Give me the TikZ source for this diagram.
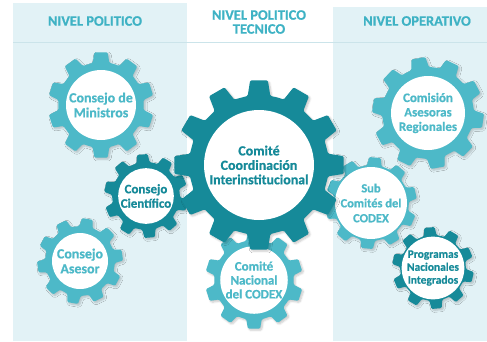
\documentclass[tikz,border=0pt]{standalone}
\usepackage{fontspec}
\setmainfont{Carlito}[BoldFeatures={FakeBold=0.6}]
\usetikzlibrary{shadows.blur}
\definecolor{lightg}{HTML}{4DB9C8}
\definecolor{darkg}{HTML}{168A99}
\definecolor{headc}{HTML}{3EB2C4}
\definecolor{panel}{HTML}{E2F2F6}
\definecolor{sepline}{HTML}{CBE4EA}
\tikzset{
  gearshadow/.style={blur shadow={shadow xshift=1.5bp, shadow yshift=-1.5bp, shadow opacity=22, shadow blur steps=6}},
  hub/.style={circle, fill=white, inner sep=0pt, align=center},
  head/.style={text=headc, font=\bfseries\fontsize{14.5}{14}\selectfont, align=center, inner sep=0pt},
}
% #1 x, #2 y, #3 teeth, #4 root radius, #5 tip radius, #6 rotation, #7 colour
\newcommand\mygear[7]{%
  \begin{scope}[shift={(#1,#2)}]
    \fill[#7, rounded corners=1.2bp, gearshadow]
      ({#6+0.5*360/#3}:#4)
      \foreach \k in {1,...,#3} {
        -- ({#6+(\k-0.31)*360/#3}:#4) -- ({#6+(\k-0.2)*360/#3}:#5) --
        ({#6+(\k+0.2)*360/#3}:#5) -- ({#6+(\k+0.31)*360/#3}:#4)
      } -- cycle;
  \end{scope}}
\begin{document}
\begin{tikzpicture}[x=1bp, y=-1bp]
\useasboundingbox (0,0) rectangle (487,341);
\clip (0,0) rectangle (487,341);
% panels
\fill[panel] (13,3) rectangle (187,341);
\fill[panel] (333,7) rectangle (487,341);
\coordinate (sepL) at (13,42);
\coordinate (sepR) at (487,42);
\draw[sepline, line width=0.8bp] (sepL) -- (sepR);
% headers
\node[head] (h1) at (95,21) {NIVEL POLITICO};
\node[head] (h2) at (259,22) {NIVEL POLITICO\\TECNICO};
\node[head] (h3) at (417,21) {NIVEL OPERATIVO};
% gears
\mygear{101}{105}{10}{43}{53}{-90}{lightg}
\node[hub, minimum size=70bp, text=lightg, font=\bfseries\fontsize{14}{15}\selectfont] (ministros) at (101,105) {Consejo de\\Ministros};
\mygear{80}{261}{10}{35}{43}{-80}{lightg}
\node[hub, minimum size=56bp, text=lightg, font=\bfseries\fontsize{14}{15}\selectfont] (asesor) at (80,261) {Consejo\\Asesor};
\mygear{146}{196}{10}{34}{42}{-95}{darkg}
\node[hub, minimum size=54bp, text=darkg, font=\bfseries\fontsize{13}{14.5}\selectfont] (cientifico) at (146,196) {Consejo\\Científico};
\mygear{254}{280}{10}{40}{49}{-90}{lightg}
\node[hub, minimum size=64bp, text=lightg, font=\bfseries\fontsize{13}{14}\selectfont] (nacional) at (254,280) {Comité\\Nacional\\del CODEX};
\mygear{428}{113}{10}{46}{56}{-100}{lightg}
\node[hub, minimum size=74bp, text=lightg, font=\bfseries\fontsize{13}{14.5}\selectfont] (comision) at (428,113) {Comisión\\Asesoras\\Regionales};
\mygear{371}{203}{10}{38}{46}{-85}{lightg}
\node[hub, minimum size=60bp, text=lightg, font=\bfseries\fontsize{12.5}{15}\selectfont] (sub) at (371,203) {Sub\\Comités del\\CODEX};
\mygear{433}{268}{10}{33}{41}{-95}{darkg}
\node[hub, minimum size=54bp, text=darkg, font=\bfseries\fontsize{11.5}{13}\selectfont] (programas) at (433,268) {Programas\\Nacionales\\Integrados};
\mygear{259}{165}{12}{70}{85}{-90}{darkg}
\node[hub, minimum size=110bp, text=darkg, font=\bfseries\fontsize{14}{14.5}\selectfont] (central) at (259,165) {Comité\\Coordinación\\Interinstitucional};
\end{tikzpicture}
\end{document}
